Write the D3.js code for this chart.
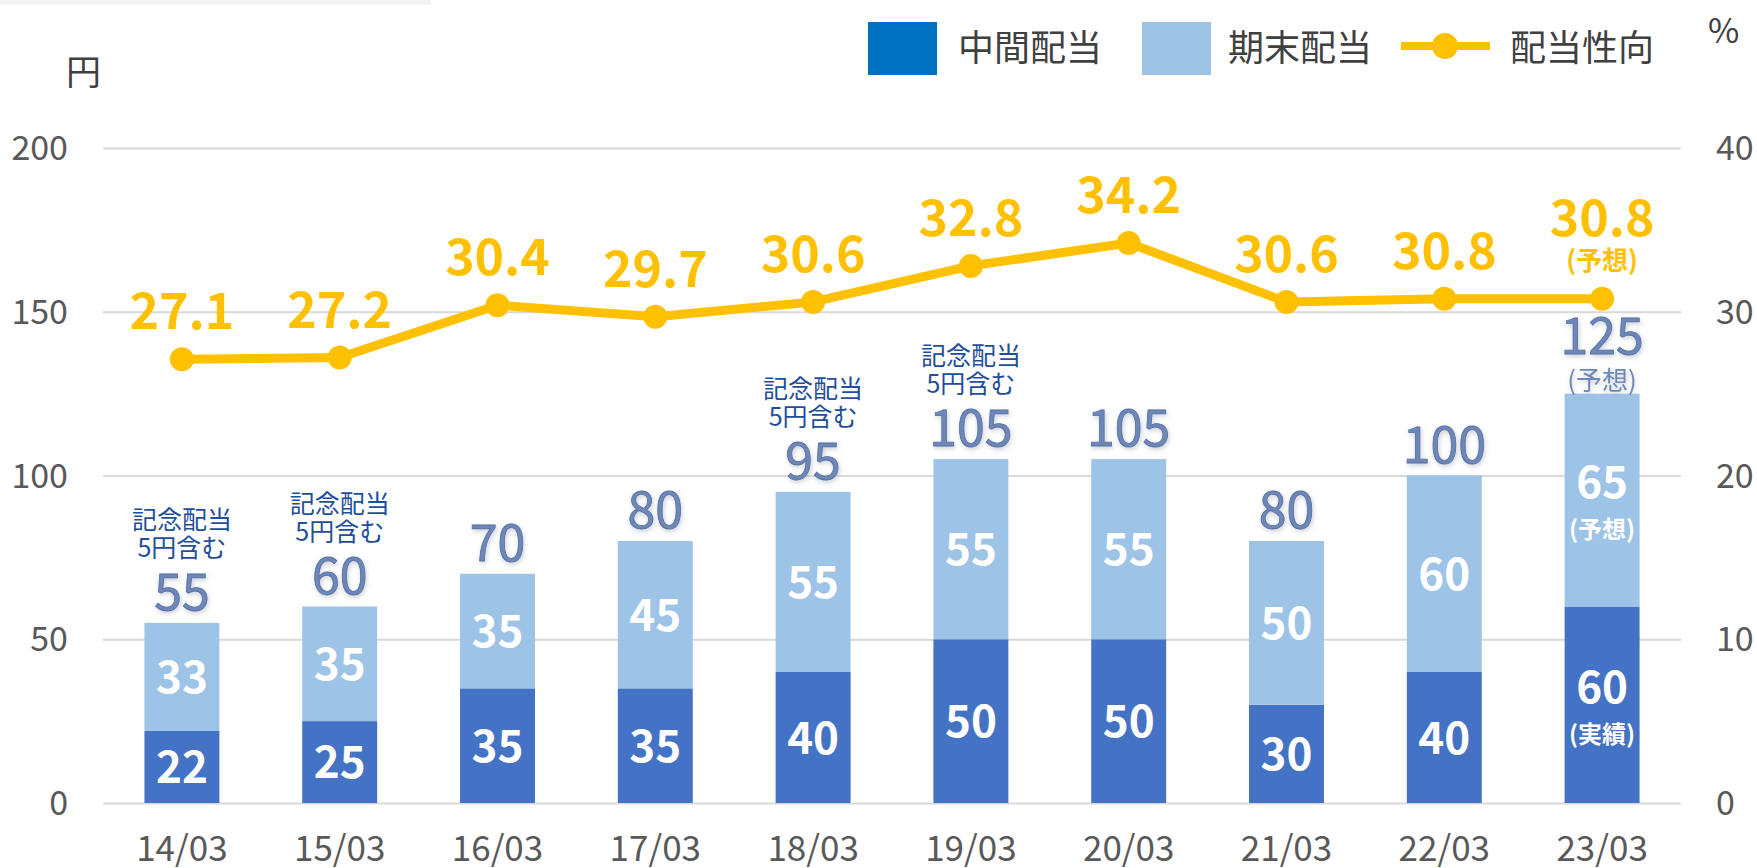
<!DOCTYPE html>
<html>
<head>
<meta charset="utf-8">
<script src="https://cdn.jsdelivr.net/npm/d3@7"></script>
<style>
  html, body { margin: 0; padding: 0; background: #fff; }
  svg { display: block; font-family: "Noto Sans CJK JP", "Noto Sans", sans-serif; }
</style>
</head>
<body>
<div id="chart"></div>
<script>
// chart values
var periods = ["14/03", "15/03", "16/03", "17/03", "18/03", "19/03", "20/03", "21/03", "22/03", "23/03"];
var interimDiv = [22, 25, 35, 35, 40, 50, 50, 30, 40, 60];
var finalDiv = [33, 35, 35, 45, 55, 55, 55, 50, 60, 65];
var payoutRatio = [27.1, 27.2, 30.4, 29.7, 30.6, 32.8, 34.2, 30.6, 30.8, 30.8];
var interimNotes = ["", "", "", "", "", "", "", "", "", "(実績)"];
var finalNotes = ["", "", "", "", "", "", "", "", "", "(予想)"];
var totalNotes = ["", "", "", "", "", "", "", "", "", "(予想)"];
var payoutNotes = ["", "", "", "", "", "", "", "", "", "(予想)"];
var memorialNote = [true, true, false, false, true, true, false, false, false, false];
var leftTicks = [0, 50, 100, 150, 200];
var rightTicks = [0, 10, 20, 30, 40];

var width = 1757, height = 868;
var plot = { left: 103, right: 1681, top: 148, bottom: 803 };

var colInterim = "#4472C4", colFinal = "#9DC3E6", colLine = "#FFC000";
var colText = "#595959";
var fontMain = "\"Noto Sans CJK JP\", \"Noto Sans\", sans-serif";

var svg, x, yLeft, yRight;

function initSvg() {
  svg = d3.select("#chart").append("svg")
    .attr("width", width)
    .attr("height", height);

  var defs = svg.append("defs");
  var f = defs.append("filter").attr("id", "glow")
    .attr("x", "-20%").attr("y", "-20%").attr("width", "140%").attr("height", "140%");
  f.append("feGaussianBlur").attr("in", "SourceAlpha").attr("stdDeviation", 2.5).attr("result", "b");
  f.append("feOffset").attr("in", "b").attr("dx", 1).attr("dy", 2).attr("result", "o");
  f.append("feFlood").attr("flood-color", "#9aa4b4").attr("flood-opacity", 0.55);
  f.append("feComposite").attr("in2", "o").attr("operator", "in").attr("result", "s");
  var m = f.append("feMerge");
  m.append("feMergeNode").attr("in", "s");
  m.append("feMergeNode").attr("in", "SourceGraphic");

  // thin grey strip top left
  svg.append("rect").attr("x", 0).attr("y", 0).attr("width", 431).attr("height", 5).attr("fill", "#F2F2F2");
}

function initScales() {
  x = d3.scaleBand().domain(periods).range([plot.left, plot.right]).paddingInner(0.525).paddingOuter(0.2625);
  yLeft = d3.scaleLinear().domain([0, 200]).range([plot.bottom, plot.top]);
  yRight = d3.scaleLinear().domain([0, 40]).range([plot.bottom, plot.top]);
}

function axesUpdate() {
  var gl = svg.append("g")
    .attr("transform", "translate(" + plot.left + ",0)")
    .call(d3.axisLeft(yLeft).tickValues(leftTicks).tickSize(-(plot.right - plot.left)).tickPadding(35))
    .attr("font-family", fontMain);
  gl.select(".domain").remove();
  gl.selectAll("line").attr("stroke", "#D9D9D9").attr("stroke-width", 2);
  gl.selectAll("text").attr("fill", colText).style("font-size", "34px").attr("dy", "0.34em");

  var gr = svg.append("g")
    .attr("transform", "translate(" + plot.right + ",0)")
    .call(d3.axisRight(yRight).tickValues(rightTicks).tickSize(0).tickPadding(35))
    .attr("font-family", fontMain);
  gr.select(".domain").remove();
  gr.selectAll("text").attr("fill", colText).style("font-size", "34px").attr("dy", "0.34em");

  var gb = svg.append("g")
    .attr("transform", "translate(0," + plot.bottom + ")")
    .call(d3.axisBottom(x).tickSize(0).tickPadding(33))
    .attr("font-family", fontMain);
  gb.select(".domain").remove();
  gb.selectAll("text").attr("fill", colText).style("font-size", "35px");

  svg.append("text").attr("x", 66).attr("y", 85).attr("fill", "#404040")
    .style("font-size", "35px").text("円");
  svg.append("text").attr("x", 1708).attr("y", 43).attr("fill", "#404040")
    .style("font-size", "34px").text("%");
}

function barsUpdate() {
  var rows = periods.map(function (p, i) {
    return { period: p, interim: interimDiv[i], final: finalDiv[i], i: i };
  });
  var stacked = d3.stack().keys(["interim", "final"])(rows);
  var colors = { interim: colInterim, final: colFinal };
  var notes = { interim: interimNotes, final: finalNotes };

  stacked.forEach(function (layer) {
    svg.append("g").selectAll("rect")
      .data(layer)
      .enter().append("rect")
      .attr("x", function (d) { return x(d.data.period); })
      .attr("y", function (d) { return yLeft(d[1]); })
      .attr("width", x.bandwidth())
      .attr("height", function (d) { return yLeft(d[0]) - yLeft(d[1]); })
      .attr("fill", colors[layer.key]);

    var lab = svg.append("g").selectAll("g")
      .data(layer)
      .enter().append("g")
      .attr("transform", function (d) {
        var cy = (yLeft(d[0]) + yLeft(d[1])) / 2;
        return "translate(" + (x(d.data.period) + x.bandwidth() / 2) + "," + cy + ")";
      })
      .attr("fill", "#fff")
      .attr("font-weight", "bold")
      .attr("text-anchor", "middle");

    lab.append("text")
      .style("font-size", "44px")
      .attr("y", function (d) { return notes[layer.key][d.data.i] ? -2 : 16; })
      .text(function (d) { return d.data[layer.key]; });
    lab.append("text")
      .style("font-size", "24px")
      .attr("y", 38)
      .text(function (d) { return notes[layer.key][d.data.i]; });
  });

  // totals
  var tot = svg.append("g").selectAll("g")
    .data(rows)
    .enter().append("g")
    .attr("transform", function (d) {
      return "translate(" + (x(d.period) + x.bandwidth() / 2) + "," + yLeft(d.interim + d.final) + ")";
    })
    .attr("text-anchor", "middle");

  tot.append("text")
    .attr("y", function (d) { return totalNotes[d.i] ? -40 : -13; })
    .attr("fill", "#6E87B9")
    .attr("stroke", "#556FA2")
    .attr("stroke-width", 0.8)
    .attr("filter", "url(#glow)")
    .style("font-size", "50px")
    .text(function (d) { return d.interim + d.final; });
  tot.append("text")
    .attr("y", -4)
    .attr("fill", "#6E87B9")
    .attr("filter", "url(#glow)")
    .style("font-size", "26px")
    .text(function (d) { return totalNotes[d.i]; });

  // 記念配当 notes
  var memo = tot.filter(function (d) { return memorialNote[d.i]; });
  memo.append("text").attr("y", -94).attr("fill", "#1F4E9A").style("font-size", "25px").text("記念配当");
  memo.append("text").attr("y", -66).attr("fill", "#1F4E9A").style("font-size", "25px").text("5円含む");
}

function lineUpdate() {
  var pts = periods.map(function (p, i) { return { period: p, v: payoutRatio[i], i: i }; });
  var cx = function (d) { return x(d.period) + x.bandwidth() / 2; };

  svg.append("path")
    .datum(pts)
    .attr("fill", "none")
    .attr("stroke", colLine)
    .attr("stroke-width", 9)
    .attr("stroke-linejoin", "round")
    .attr("d", d3.line().x(cx).y(function (d) { return yRight(d.v); }));

  svg.append("g").selectAll("circle")
    .data(pts)
    .enter().append("circle")
    .attr("cx", cx)
    .attr("cy", function (d) { return yRight(d.v); })
    .attr("r", 12)
    .attr("fill", colLine);

  var lab = svg.append("g").selectAll("g")
    .data(pts)
    .enter().append("g")
    .attr("transform", function (d) { return "translate(" + cx(d) + "," + yRight(d.v) + ")"; })
    .attr("fill", colLine)
    .attr("font-weight", "bold")
    .attr("text-anchor", "middle");
  lab.append("text")
    .attr("y", function (d) { return payoutNotes[d.i] ? -63 : -30; })
    .style("font-size", "50px")
    .text(function (d) { return d.v.toFixed(1); });
  lab.append("text")
    .attr("y", -29)
    .style("font-size", "26px")
    .text(function (d) { return payoutNotes[d.i]; });
}

function legendUpdate() {
  var g = svg.append("g").style("font-size", "36px").attr("fill", "#404040");
  g.append("rect").attr("x", 868).attr("y", 22).attr("width", 69).attr("height", 53).attr("fill", "#0070C0");
  g.append("text").attr("x", 958).attr("y", 61).text("中間配当");
  g.append("rect").attr("x", 1142).attr("y", 22).attr("width", 69).attr("height", 53).attr("fill", colFinal);
  g.append("text").attr("x", 1228).attr("y", 61).text("期末配当");
  g.append("line").attr("x1", 1401).attr("x2", 1490).attr("y1", 46).attr("y2", 46)
    .attr("stroke", colLine).attr("stroke-width", 8);
  g.append("circle").attr("cx", 1445).attr("cy", 46).attr("r", 13).attr("fill", colLine);
  g.append("text").attr("x", 1510).attr("y", 61).text("配当性向");
}

(function () {
  initSvg();
  initScales();
  axesUpdate();
  barsUpdate();
  lineUpdate();
  legendUpdate();
}());
</script>
</body>
</html>
